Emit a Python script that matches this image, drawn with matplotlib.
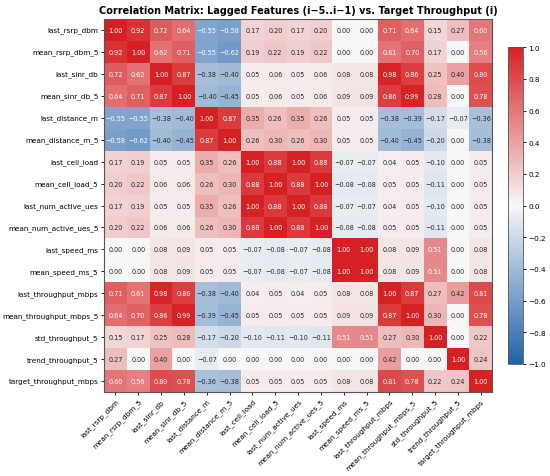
import matplotlib
matplotlib.use("Agg")
import matplotlib.pyplot as plt
import numpy as np
import seaborn as sns
from matplotlib.colors import LinearSegmentedColormap

features = [
    "last_rsrp_dbm", "mean_rsrp_dbm_5", "last_sinr_db", "mean_sinr_db_5",
    "last_distance_m", "mean_distance_m_5", "last_cell_load", "mean_cell_load_5",
    "last_num_active_ues", "mean_num_active_ues_5", "last_speed_ms", "mean_speed_ms_5",
    "last_throughput_mbps", "mean_throughput_mbps_5", "std_throughput_5",
    "trend_throughput_5", "target_throughput_mbps",
]

corr_rows = [
    [1.00, 0.92, 0.72, 0.64, -0.55, -0.58, 0.17, 0.20, 0.17, 0.20, 0.00, 0.00, 0.71, 0.64, 0.15, 0.27, 0.60],
    [0.92, 1.00, 0.62, 0.71, -0.55, -0.62, 0.19, 0.22, 0.19, 0.22, 0.00, 0.00, 0.61, 0.70, 0.17, 0.00, 0.56],
    [0.72, 0.62, 1.00, 0.87, -0.38, -0.40, 0.05, 0.06, 0.05, 0.06, 0.08, 0.08, 0.98, 0.86, 0.25, 0.40, 0.80],
    [0.64, 0.71, 0.87, 1.00, -0.40, -0.45, 0.05, 0.06, 0.05, 0.06, 0.09, 0.09, 0.86, 0.99, 0.28, 0.00, 0.78],
    [-0.55, -0.55, -0.38, -0.40, 1.00, 0.87, 0.35, 0.26, 0.35, 0.26, 0.05, 0.05, -0.38, -0.39, -0.17, -0.07, -0.36],
    [-0.58, -0.62, -0.40, -0.45, 0.87, 1.00, 0.26, 0.30, 0.26, 0.30, 0.05, 0.05, -0.40, -0.45, -0.20, 0.00, -0.38],
    [0.17, 0.19, 0.05, 0.05, 0.35, 0.26, 1.00, 0.88, 1.00, 0.88, -0.07, -0.07, 0.04, 0.05, -0.10, 0.00, 0.05],
    [0.20, 0.22, 0.06, 0.06, 0.26, 0.30, 0.88, 1.00, 0.88, 1.00, -0.08, -0.08, 0.05, 0.05, -0.11, 0.00, 0.05],
    [0.17, 0.19, 0.05, 0.05, 0.35, 0.26, 1.00, 0.88, 1.00, 0.88, -0.07, -0.07, 0.04, 0.05, -0.10, 0.00, 0.05],
    [0.20, 0.22, 0.06, 0.06, 0.26, 0.30, 0.88, 1.00, 0.88, 1.00, -0.08, -0.08, 0.05, 0.05, -0.11, 0.00, 0.05],
    [0.00, 0.00, 0.08, 0.09, 0.05, 0.05, -0.07, -0.08, -0.07, -0.08, 1.00, 1.00, 0.08, 0.09, 0.51, 0.00, 0.08],
    [0.00, 0.00, 0.08, 0.09, 0.05, 0.05, -0.07, -0.08, -0.07, -0.08, 1.00, 1.00, 0.08, 0.09, 0.51, 0.00, 0.08],
    [0.71, 0.61, 0.98, 0.86, -0.38, -0.40, 0.04, 0.05, 0.04, 0.05, 0.08, 0.08, 1.00, 0.87, 0.27, 0.42, 0.81],
    [0.64, 0.70, 0.86, 0.99, -0.39, -0.45, 0.05, 0.05, 0.05, 0.05, 0.09, 0.09, 0.87, 1.00, 0.30, 0.00, 0.78],
    [0.15, 0.17, 0.25, 0.28, -0.17, -0.20, -0.10, -0.11, -0.10, -0.11, 0.51, 0.51, 0.27, 0.30, 1.00, 0.00, 0.22],
    [0.27, 0.00, 0.40, 0.00, -0.07, 0.00, 0.00, 0.00, 0.00, 0.00, 0.00, 0.00, 0.42, 0.00, 0.00, 1.00, 0.24],
    [0.60, 0.56, 0.80, 0.78, -0.36, -0.38, 0.05, 0.05, 0.05, 0.05, 0.08, 0.08, 0.81, 0.78, 0.22, 0.24, 1.00],
]

title = "Correlation Matrix: Lagged Features (i\u22125..i\u22121) vs. Target Throughput (i)"

corr = np.array(corr_rows)
# unicode minus like matplotlib's own tick labels
labels = np.array([[f"{v:.2f}".replace("-", "\u2212") for v in row] for row in corr])

cmap = LinearSegmentedColormap.from_list(
    "rb", [(0.13, 0.38, 0.66), (0.97, 0.97, 0.97), (0.84, 0.13, 0.14)]
)

fig = plt.figure(figsize=(5.5, 4.77), dpi=100)
ax = fig.add_axes([0.189, 0.176, 0.706, 0.782])
cax = fig.add_axes([0.924, 0.235, 0.027, 0.664])

sns.heatmap(
    corr, ax=ax, cbar_ax=cax, cmap=cmap, vmin=-1, vmax=1, center=0,
    annot=labels, fmt="", annot_kws={"size": 4.7},
    xticklabels=features, yticklabels=features,
)

for side in ax.spines.values():
    side.set_visible(True)
    side.set_color("#555555")
    side.set_linewidth(0.8)

ax.tick_params(axis="both", labelsize=5.2, length=2.5, width=0.6, pad=1.5)
plt.setp(ax.get_xticklabels(), rotation=45, ha="right", rotation_mode="anchor")
plt.setp(ax.get_yticklabels(), rotation=0)
ax.set_title(title, fontsize=7.0, fontweight="bold", pad=4)

cbar = ax.collections[0].colorbar
cbar.set_ticks([-1.0, -0.8, -0.6, -0.4, -0.2, 0.0, 0.2, 0.4, 0.6, 0.8, 1.0])
cax.tick_params(labelsize=5.2, length=2.5, width=0.6, pad=1.5)
cbar.outline.set_visible(True)
cbar.outline.set_edgecolor("#555555")
cbar.outline.set_linewidth(0.6)

fig.savefig("out.png", dpi=100)
